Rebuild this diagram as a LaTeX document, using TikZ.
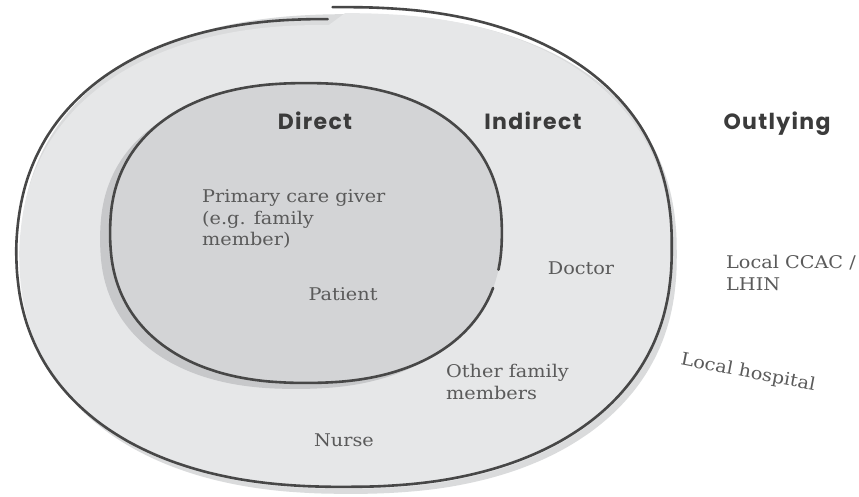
\documentclass[tikz,border=0pt]{standalone}
\usepackage{fontspec}
\setmainfont{DejaVu Serif}[FakeStretch=1.1]
\newfontfamily\headfont[LetterSpace=6]{Poppins}
\definecolor{outerfill}{HTML}{E6E7E8}
\definecolor{outershadow}{HTML}{DADBDC}
\definecolor{innerfill}{HTML}{D3D4D6}
\definecolor{innershadow}{HTML}{C7C8CA}
\definecolor{ringline}{HTML}{474747}
\definecolor{headtext}{HTML}{3B3B3B}
\definecolor{labeltext}{HTML}{5A5A5A}
\begin{document}
\begin{tikzpicture}[x=1pt,y=-1pt,
  declare function={
    sr(\t)=1/(((abs(cos(\t))+0.0005)^2.3+(abs(sin(\t))+0.0005)^2.3)^(1/2.3));
    sp(\t)=1-0.05*max(0,(\t-180)/88);
  },
  ring/.style={draw=ringline,line width=2.6pt,line cap=round},
  head/.style={font=\headfont\bfseries\fontsize{22}{26}\selectfont,text=headtext,inner sep=0pt,anchor=base},
  lbl/.style={font=\fontsize{17.5}{21.5}\selectfont,text=labeltext,inner sep=0pt,align=left}]
\useasboundingbox[fill=white] (0,0) rectangle (859,496);
% outer region (shadow, fill, spiral outline)
\fill[outershadow,shift={(5,7)}] plot[domain=0:360,samples=144,smooth] ({344+328*sr(\x)*cos(\x)},{247+240*sr(\x)*sin(\x)}) -- cycle;
\fill[outerfill,shift={(1,4)}] plot[domain=-90:267,samples=144,smooth] ({344+326*sr(\x)*sp(\x)*cos(\x)},{247+238*sr(\x)*sp(\x)*sin(\x)}) -- cycle;
\draw[ring] plot[domain=-92:267,samples=144,smooth] ({344+328*sr(\x)*sp(\x)*cos(\x)},{247+240*sr(\x)*sp(\x)*sin(\x)});
% inner region (shadow, fill, outline with a gap)
\fill[innershadow,shift={(-10,6)}] plot[domain=0:360,samples=120,smooth] ({306+196*sr(\x)*cos(\x)},{233+150*sr(\x)*sin(\x)}) -- cycle;
\fill[innerfill] plot[domain=0:360,samples=120,smooth] ({306+196*sr(\x)*cos(\x)},{233+150*sr(\x)*sin(\x)}) -- cycle;
\draw[ring] plot[domain=21:374,samples=120,smooth] ({306+196*sr(\x)*cos(\x)},{233+150*sr(\x)*sin(\x)});
% headings
\node[head] (direct) at (315,129) {Direct};
\node[head] (indirect) at (533,129) {Indirect};
\node[head] (outlying) at (777,129) {Outlying};
% labels
\node[lbl,anchor=west] (primary) at (202,219) {Primary care giver\\(e.g. family\\member)};
\node[lbl] (patient) at (343,294) {Patient};
\node[lbl] (doctor) at (581,268) {Doctor};
\node[lbl,anchor=west] (otherfam) at (446,382) {Other family\\members};
\node[lbl] (nurse) at (344,440) {Nurse};
\node[lbl,anchor=west] (ccac) at (726,273) {Local CCAC /\\LHIN};
\node[lbl,rotate=-11] (hospital) at (748,373) {Local hospital};
\end{tikzpicture}
\end{document}
